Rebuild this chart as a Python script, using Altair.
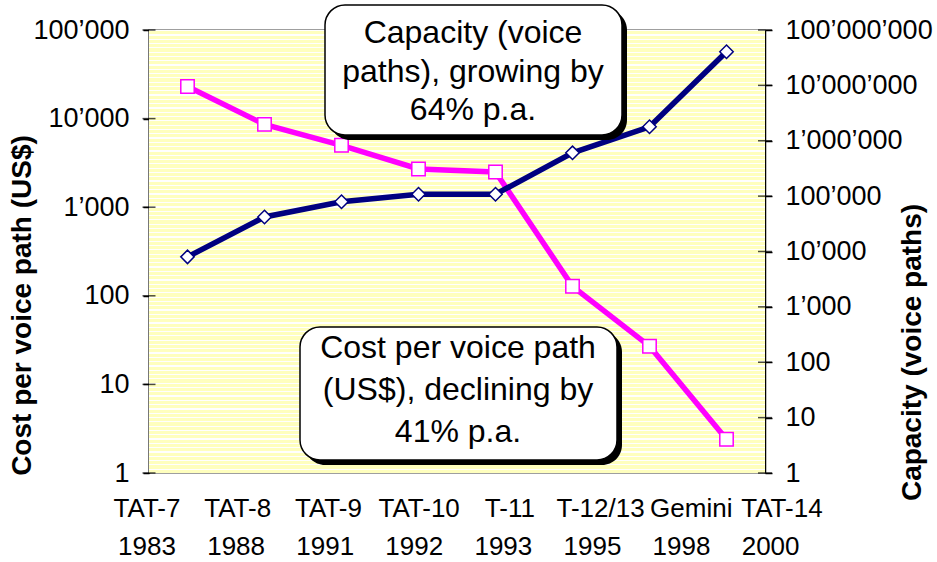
import altair as alt
import pandas as pd

# ---- data ----
cables = ["TAT-7", "TAT-8", "TAT-9", "TAT-10", "T-11", "T-12/13", "Gemini", "TAT-14"]
years = ["1983", "1988", "1991", "1992", "1993", "1995", "1998", "2000"]
cost_usd = [23000, 8600, 5000, 2700, 2500, 128, 27, 2.4]
capacity_paths = [8000, 42000, 79000, 108000, 108000, 605000, 1790000, 40500000]
cost_ticks = [1, 10, 100, 1000, 10000, 100000]
capacity_ticks = [1, 10, 100, 1000, 10000, 100000, 1000000, 10000000, 100000000]

note_capacity = ["Capacity (voice", "paths), growing by", "64% p.a."]
note_cost = ["Cost per voice path", "(US$), declining by", "41% p.a."]

# ---- styling ----
W, H = 616, 443
FONT = "Liberation Sans"
MAGENTA = "#FF00FF"
NAVY = "#000080"
YELLOW = "#FFFFBE"
n = len(cables)

# light horizontal hatch of the plot background (style only)
period, line_w = 4.3, 1.2
stops = []
k = 0
while (k * period + line_w) / H < 1:
    a = k * period / H
    b = (k * period + line_w) / H
    stops += [
        {"offset": a, "color": YELLOW},
        {"offset": a, "color": "#FFFFFF"},
        {"offset": b, "color": "#FFFFFF"},
        {"offset": b, "color": YELLOW},
    ]
    k += 1
stripes = alt.LinearGradient(gradient="linear", x1=0, y1=0, x2=0, y2=1,
                             stops=[alt.GradientStop(offset=s["offset"], color=s["color"]) for s in stops])

df = pd.DataFrame({
    "cable": cables,
    "year": years,
    "cost": cost_usd,
    "capacity": capacity_paths,
    "idx": list(range(n)),
})
base = alt.Chart(df).transform_calculate(xpos="datum.idx + 0.5")

x_scale = alt.Scale(domain=[0, n], nice=False, zero=False)
x_axis_enc = alt.X(
    "xpos:Q", scale=x_scale,
    axis=alt.Axis(values=list(range(n + 1)), labels=False, title=None, grid=False,
                  tickSize=7, tickWidth=1.5, tickColor="black",
                  domainColor="black", domainWidth=1.5),
)
x_plain = alt.X("xpos:Q", scale=x_scale, axis=None)

fmt = "replace(format(datum.value, ','), regexp(',', 'g'), '\u2019')"

cost_scale = alt.Scale(type="log", domain=[1, 100000], nice=False)
cap_scale = alt.Scale(type="log", domain=[1, 100000000], nice=False)

left_axis = alt.Axis(
    orient="left", values=cost_ticks, labelExpr=fmt,
    title="Cost per voice path (US$)", titleX=-127, titleY=275, titleAngle=270,
    titleAlign="center", titleBaseline="middle",
    grid=False, tickSize=6, tickWidth=1.5, tickColor="black",
    domainColor="black", domainWidth=1.5, labelPadding=14,
)
right_axis = alt.Axis(
    orient="right", values=capacity_ticks, labelExpr=fmt,
    title="Capacity (voice paths)", titleX=147, titleY=322, titleAngle=270,
    titleAlign="center", titleBaseline="middle",
    grid=False, tickSize=7, tickWidth=1.5, tickColor="black",
    domainColor="black", domainWidth=1.5, labelPadding=13,
)

one = pd.DataFrame({"k": [0]})

# plot background with hatch
background = alt.Chart(one).mark_rect(fill=stripes, strokeWidth=0).encode(
    x=alt.value(0), x2=alt.value(W), y=alt.value(0), y2=alt.value(H)
)

# cost series (left axis)
cost_line = base.mark_line(color=MAGENTA, strokeWidth=5.5).encode(
    x=x_axis_enc, y=alt.Y("cost:Q", scale=cost_scale, axis=left_axis)
)
cost_pts = base.mark_square(size=180, color="white", stroke=MAGENTA, strokeWidth=1.5, opacity=1).encode(
    x=x_plain, y=alt.Y("cost:Q", scale=cost_scale)
)
cost_inner_ticks = alt.Chart(pd.DataFrame({"v": cost_ticks})).mark_tick(
    orient="horizontal", color="black", size=13, thickness=1.5
).encode(x=alt.datum(0), y=alt.Y("v:Q", scale=cost_scale))
left_layer = alt.layer(cost_line, cost_pts, cost_inner_ticks)

# capacity series (right axis)
cap_line = base.mark_line(color=NAVY, strokeWidth=5.5).encode(
    x=x_plain, y=alt.Y("capacity:Q", scale=cap_scale, axis=right_axis)
)
cap_pts = base.mark_point(shape="diamond", filled=True, size=180, color="white",
                          stroke=NAVY, strokeWidth=1.5, opacity=1).encode(
    x=x_plain, y=alt.Y("capacity:Q", scale=cap_scale)
)
cap_inner_ticks = alt.Chart(pd.DataFrame({"v": capacity_ticks})).mark_tick(
    orient="horizontal", color="black", size=14, thickness=1.5
).encode(x=alt.datum(n), y=alt.Y("v:Q", scale=cap_scale))
right_layer = alt.layer(cap_line, cap_pts, cap_inner_ticks)

# category labels: two rows spread across the axis like the original text box
name_row = alt.Chart(df).transform_calculate(
    lx="datum.idx * 1.178 - 0.026"
).mark_text(font=FONT, fontSize=26, baseline="middle", align="center", color="black").encode(
    x=alt.X("lx:Q", scale=x_scale, axis=None), y=alt.value(479), text="cable:N"
)
year_row = alt.Chart(df).transform_calculate(
    lx="datum.idx * 1.157 - 0.026"
).mark_text(font=FONT, fontSize=26, baseline="middle", align="center", color="black").encode(
    x=alt.X("lx:Q", scale=x_scale, axis=None), y=alt.value(517), text="year:N"
)


def note_box(x0, x1, y0, y1, lines, cx, cy, lh):
    shadow = alt.Chart(one).mark_rect(cornerRadius=20, color="black").encode(
        x=alt.value(x0 + 5), x2=alt.value(x1 + 5), y=alt.value(y0 + 5), y2=alt.value(y1 + 5)
    )
    box = alt.Chart(one).mark_rect(cornerRadius=20, fill="white", stroke="black", strokeWidth=1.5).encode(
        x=alt.value(x0), x2=alt.value(x1), y=alt.value(y0), y2=alt.value(y1)
    )
    txt = alt.Chart(one).mark_text(text=lines, font=FONT, fontSize=32, lineHeight=lh,
                                   align="center", baseline="middle", color="black").encode(
        x=alt.value(cx), y=alt.value(cy)
    )
    return [shadow, box, txt]


notes = note_box(176, 473, -25, 105, note_capacity, 324, 3, 38.5) + \
    note_box(151, 468, 297, 430, note_cost, 309, 318, 42)

chart = alt.layer(background, left_layer, right_layer, name_row, year_row, *notes).resolve_scale(
    y="independent"
).properties(
    width=W, height=H,
    autosize=alt.AutoSizeParams(type="none"),
    padding={"left": 149, "top": 30, "right": 937 - 149 - W, "bottom": 562 - 30 - H},
).configure_view(
    fill="#FFFFC8", stroke="#808080", strokeWidth=1.5
).configure_axis(
    labelFont=FONT, labelFontSize=27, labelColor="black",
    titleFont=FONT, titleFontSize=28, titleFontWeight="bold", titleColor="black",
)

chart.save("out.html", embed_options={"renderer": "svg", "actions": False})
